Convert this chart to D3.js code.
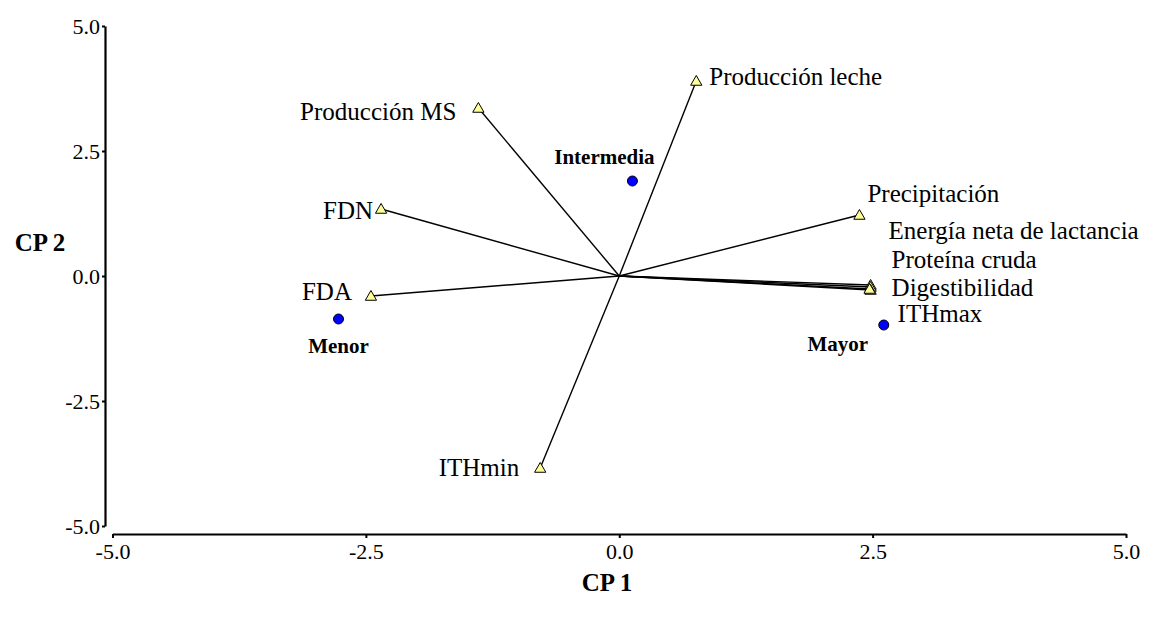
<!DOCTYPE html>
<html lang="es">
<head>
<meta charset="UTF-8">
<title>Biplot CP1 vs CP2</title>
<script src="https://d3js.org/d3.v7.min.js"></script>
<style>
  body { margin: 0; background: #fff; }
</style>
</head>
<body>
<div id="chart"></div>
<script>
// variables (vectors) - CP1 / CP2 scores
var varNames = ["Producción leche", "Producción MS", "FDN", "FDA", "ITHmin",
                "Precipitación", "Energía neta de lactancia", "Proteína cruda",
                "Digestibilidad", "ITHmax"];
var varCP1 = [0.76, -1.39, -2.35, -2.45, -0.78, 2.37, 2.48, 2.48, 2.48, 2.47];
var varCP2 = [3.90, 3.36, 1.34, -0.40, -3.84, 1.22, -0.18, -0.22, -0.28, -0.26];

// groups (points)
var grpNames = ["Intermedia", "Menor", "Mayor"];
var grpCP1 = [0.13, -2.77, 2.61];
var grpCP2 = [1.90, -0.86, -0.98];

var tickValues = [-5, -2.5, 0, 2.5, 5];

// label placement (pixels from marker), like the original software's layout
var varLabelPos = {
  "Producción leche": [13, -5, "start"],
  "Producción MS": [-22, 3, "end"],
  "FDN": [-8, 1, "end"],
  "FDA": [-19, -5, "end"],
  "ITHmin": [-21, -1, "end"],
  "Precipitación": [8, -22, "start"],
  "Energía neta de lactancia": [18, -55, "start"],
  "Proteína cruda": [21, -28, "start"],
  "Digestibilidad": [21, -3, "start"],
  "ITHmax": [28, 24, "start"]
};
var grpLabelPos = {
  "Intermedia": [-28, -24, "middle"],
  "Menor": [0, 27, "middle"],
  "Mayor": [-46, 19, "middle"]
};

var W = 1153, H = 619;
var svg = d3.select("#chart").append("svg")
    .attr("width", W).attr("height", H);

var x = d3.scaleLinear().domain([-5, 5]).range([112.5, 1126]);
var y = d3.scaleLinear().domain([-5, 5]).range([526, 26]);

// hyphen minus like the original
var fmt = function (v) { return d3.format(".1f")(v).replace("\u2212", "-"); };

// y axis (separate from x axis, like the reference)
var yAxis = svg.append("g")
    .attr("transform", "translate(105,0)")
    .call(d3.axisLeft(y).tickValues(tickValues).tickFormat(fmt)
        .tickSize(3).tickSizeOuter(0).tickPadding(2));
yAxis.select(".domain").attr("stroke-width", 2.2);
yAxis.selectAll(".tick line").attr("stroke-width", 2);
yAxis.selectAll(".tick text").attr("font-size", 22).attr("fill", "#000");

var xAxis = svg.append("g")
    .attr("transform", "translate(0,534)")
    .call(d3.axisBottom(x).tickValues(tickValues).tickFormat(fmt)
        .tickSize(4).tickSizeOuter(0).tickPadding(5));
xAxis.select(".domain").attr("stroke-width", 2.2);
xAxis.selectAll(".tick line").attr("stroke-width", 2);
xAxis.selectAll(".tick text").attr("font-size", 22).attr("fill", "#000");

// axis titles
svg.append("text")
    .attr("x", 40).attr("y", 242)
    .attr("dy", "0.35em")
    .attr("text-anchor", "middle")
    .attr("font-size", 25).attr("font-weight", "bold")
    .text("CP 2");
svg.append("text")
    .attr("x", 607).attr("y", 582)
    .attr("dy", "0.35em")
    .attr("text-anchor", "middle")
    .attr("font-size", 25).attr("font-weight", "bold")
    .text("CP 1");

var vars = varNames.map(function (n, i) {
  return { name: n, cp1: varCP1[i], cp2: varCP2[i] };
});
var grps = grpNames.map(function (n, i) {
  return { name: n, cp1: grpCP1[i], cp2: grpCP2[i] };
});

// vectors from origin
svg.append("g").selectAll("line")
    .data(vars).enter().append("line")
    .attr("x1", x(0)).attr("y1", y(0))
    .attr("x2", function (d) { return x(d.cp1); })
    .attr("y2", function (d) { return y(d.cp2); })
    .attr("stroke", "#000").attr("stroke-width", 1.4);

// triangles at vector ends
var tri = d3.symbol().type(d3.symbolTriangle).size(55);
svg.append("g").selectAll("path")
    .data(vars).enter().append("path")
    .attr("d", tri)
    .attr("transform", function (d) {
      return "translate(" + x(d.cp1) + "," + (y(d.cp2) + 1) + ")";
    })
    .attr("fill", "#ffff99").attr("stroke", "#000").attr("stroke-width", 1);

svg.append("g").selectAll("text")
    .data(vars).enter().append("text")
    .attr("x", function (d) { return x(d.cp1) + varLabelPos[d.name][0]; })
    .attr("y", function (d) { return y(d.cp2) + varLabelPos[d.name][1]; })
    .attr("dy", "0.35em")
    .attr("text-anchor", function (d) { return varLabelPos[d.name][2]; })
    .attr("font-size", 25)
    .text(function (d) { return d.name; });

// group points
svg.append("g").selectAll("circle")
    .data(grps).enter().append("circle")
    .attr("cx", function (d) { return x(d.cp1); })
    .attr("cy", function (d) { return y(d.cp2); })
    .attr("r", 5)
    .attr("fill", "#0000ff").attr("stroke", "#000").attr("stroke-width", 1);

svg.append("g").selectAll("text")
    .data(grps).enter().append("text")
    .attr("x", function (d) { return x(d.cp1) + grpLabelPos[d.name][0]; })
    .attr("y", function (d) { return y(d.cp2) + grpLabelPos[d.name][1]; })
    .attr("dy", "0.35em")
    .attr("text-anchor", function (d) { return grpLabelPos[d.name][2]; })
    .attr("font-size", 21).attr("font-weight", "bold")
    .text(function (d) { return d.name; });

// serif everywhere (set inline so the axis defaults don't win)
svg.selectAll("text").style("font-family", "'Liberation Serif', 'Times New Roman', serif");
</script>
</body>
</html>
